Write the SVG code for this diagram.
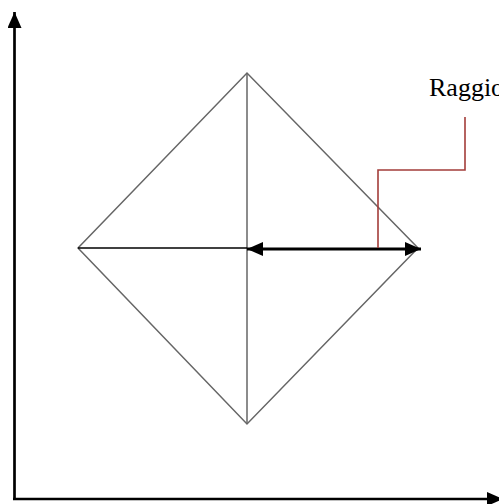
<svg xmlns="http://www.w3.org/2000/svg" width="499" height="504" viewBox="0 0 499 504">
<style>
.ax{stroke:#000;stroke-width:2.7;fill:none}
.dm{stroke:#666;stroke-width:1.5;fill:none}
.lbl{font-family:"Liberation Serif","Times New Roman",serif;font-size:26px;fill:#000}
</style>
<defs>
<marker id="ah" viewBox="0 0 16 14" refX="16" refY="7" markerWidth="16" markerHeight="14" markerUnits="userSpaceOnUse" orient="auto-start-reverse">
<path d="M0,0 L16,7 L0,14 Z" fill="#000"/>
</marker>
</defs>
<g id="axes">
<line class="ax" x1="14.5" y1="499" x2="14.5" y2="12" marker-end="url(#ah)"/>
<line class="ax" x1="13" y1="499" x2="503" y2="499" marker-end="url(#ah)"/>
</g>
<g id="diamond">
<polygon class="dm" points="78,248 247,73 418,248 247,424"/>
<line class="dm" x1="247" y1="73" x2="247" y2="424"/>
<line x1="78" y1="248" x2="247" y2="248" stroke="#000" stroke-width="1.6"/>
</g>
<g id="connectors">
<line x1="247" y1="249" x2="421" y2="249" stroke="#000" stroke-width="3" marker-start="url(#ah)" marker-end="url(#ah)"/>
<polyline points="378,248 378,170 465,170 465,117" fill="none" stroke="#a33d3a" stroke-width="1.6"/>
</g>
<g id="label">
<text class="lbl" x="429" y="96">Raggio</text>
</g>
</svg>
